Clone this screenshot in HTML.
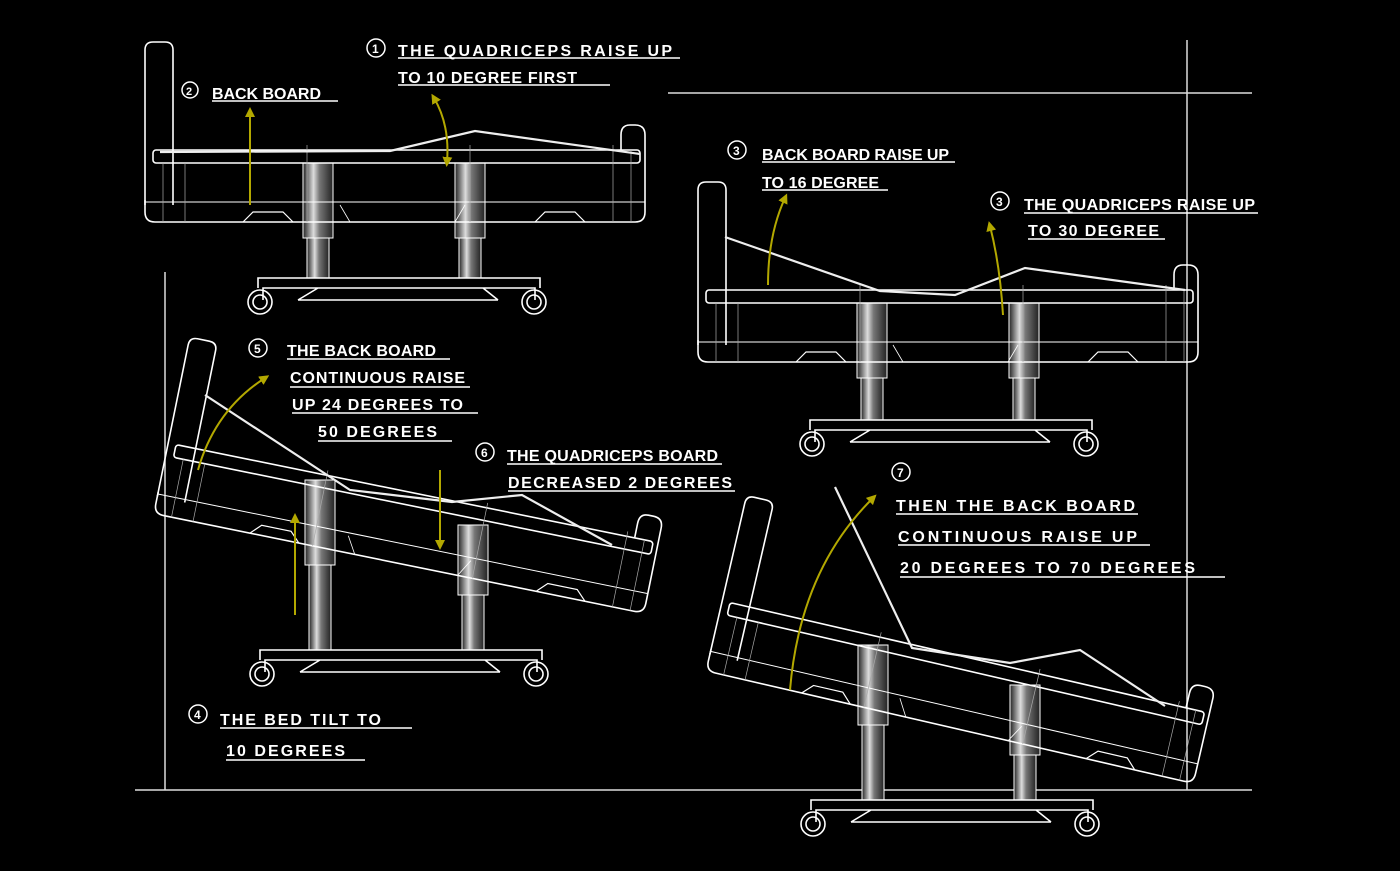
<!DOCTYPE html>
<html><head><meta charset="utf-8"><style>
html,body{margin:0;padding:0;background:#000;}
svg{display:block}
text{font-family:"Liberation Sans",sans-serif;font-weight:bold;fill:#fff;font-size:16px;letter-spacing:1px}
</style></head><body>
<svg width="1400" height="871" viewBox="0 0 1400 871" xmlns="http://www.w3.org/2000/svg">
<defs>
<linearGradient id="col" x1="0" x2="1">
<stop offset="0" stop-color="#222"/><stop offset="0.35" stop-color="#ddd"/><stop offset="0.55" stop-color="#777"/><stop offset="1" stop-color="#222"/>
</linearGradient>
<marker id="ah" viewBox="0 0 10 10" refX="5" refY="5" markerWidth="5" markerHeight="5" orient="auto-start-reverse"><path d="M0,0 L10,5 L0,10 z" fill="#b3a800"/></marker>
<g id="bed" fill="none" stroke="#fff" stroke-width="1.6">
<path d="M-10,55 L-10,-100 Q-10,-108 -2,-108 L10,-108 Q18,-108 18,-100 L18,55"/>
<path d="M-10,50 L-10,62 Q-10,72 0,72 L480,72 Q490,72 490,62 L490,-15 Q490,-25 480,-25 L475,-25 Q466,-25 466,-15 L466,0"/>
<rect x="-2" y="0" width="487" height="13" rx="3"/>
<path d="M-10,52 L490,52" stroke-width="1"/>
<path d="M88,72 L98,62 L128,62 L138,72 M380,72 L390,62 L420,62 L430,72" stroke-width="1.2"/>
<path d="M8,13 V72 M30,13 V72 M152,-5 V72 M315,-5 V72 M458,-5 V72 M476,0 V72" stroke-width="0.7" stroke="#aaa"/>
<path d="M185,55 L195,72 M310,55 L300,72" stroke-width="0.8"/>
</g>
<g id="base" fill="none" stroke="#fff" stroke-width="1.6">
<path d="M0,10 V0 H282 V10 M5,22 L5,10 H277 V22 M40,22 L60,10 M240,22 L225,10 M40,22 H240"/>
<circle cx="2" cy="24" r="12"/><circle cx="2" cy="24" r="7"/>
<circle cx="276" cy="24" r="12"/><circle cx="276" cy="24" r="7"/>
</g>
</defs>

<!-- frame lines -->
<g stroke="#ddd" stroke-width="1.5" fill="none">
<line x1="668" y1="93" x2="1252" y2="93"/>
<line x1="1187" y1="40" x2="1187" y2="790"/>
<line x1="135" y1="790" x2="1252" y2="790"/>
<line x1="165" y1="272" x2="165" y2="790"/>
</g>

<!-- columns -->
<g fill="url(#col)" stroke="#fff" stroke-width="1">
<rect x="303" y="163" width="30" height="75"/><rect x="307" y="238" width="22" height="40"/>
<rect x="455" y="163" width="30" height="75"/><rect x="459" y="238" width="22" height="40"/>
<rect x="857" y="303" width="30" height="75"/><rect x="861" y="378" width="22" height="42"/>
<rect x="1009" y="303" width="30" height="75"/><rect x="1013" y="378" width="22" height="42"/>
<rect x="305" y="480" width="30" height="85"/><rect x="309" y="565" width="22" height="85"/>
<rect x="458" y="525" width="30" height="70"/><rect x="462" y="595" width="22" height="55"/>
<rect x="858" y="645" width="30" height="80"/><rect x="862" y="725" width="22" height="75"/>
<rect x="1010" y="685" width="30" height="70"/><rect x="1014" y="755" width="22" height="45"/>
</g>

<!-- bases -->
<use href="#base" x="258" y="278"/>
<use href="#base" x="810" y="420"/>
<use href="#base" x="260" y="650"/>
<use href="#base" x="811" y="800"/>

<!-- beds -->
<g fill="#000"><use href="#bed" transform="translate(155,150)"/></g>
<use href="#bed" transform="translate(708,290)"/>
<use href="#bed" transform="translate(178,445) rotate(11.5)"/>
<use href="#bed" transform="translate(732,603) rotate(13)"/>

<!-- boards -->
<g stroke="#eee" stroke-width="2.2" fill="none">
<path d="M160,152 L390,151 L475,131 L640,154"/>
<path d="M725,237 L880,291 L955,295 L1025,268 L1185,290"/>
<path d="M205,395 L350,490 L452,502 L522,495 L612,545"/>
<path d="M835,487 L912,648 L1010,663 L1080,650 L1165,706"/>
</g>

<!-- yellow arrows -->
<g stroke="#b3a800" stroke-width="2" fill="none" marker-end="url(#ah)">
<path d="M250,205 L250,112"/>
<path d="M447,162 Q450,125 434,98" marker-start="url(#ah)"/>
<path d="M768,285 Q768,235 785,198"/>
<path d="M1003,315 Q1000,265 990,226"/>
<path d="M198,470 Q215,410 265,378"/>
<path d="M295,615 L295,518"/>
<path d="M440,470 L440,545"/>
<path d="M790,690 Q800,570 873,498"/>
</g>

<!-- labels -->
<g fill="none" stroke="#fff" stroke-width="1.5">
<circle cx="376" cy="48" r="9"/><circle cx="190" cy="90" r="8"/>
<circle cx="737" cy="150" r="9"/><circle cx="1000" cy="201" r="9"/>
<circle cx="258" cy="348" r="9"/><circle cx="485" cy="452" r="9"/>
<circle cx="901" cy="472" r="9"/><circle cx="198" cy="714" r="9"/>
<path d="M398,58 H680 M398,85 H610 M212,101 H338 M762,162 H955 M762,190 H888 M1024,213 H1258 M1028,239 H1165 M287,359 H450 M290,387 H470 M292,413 H478 M318,441 H452 M507,464 H722 M508,491 H735 M896,514 H1138 M898,545 H1150 M900,577 H1225 M220,728 H412 M226,760 H365"/>
</g>
<g font-size="11">
<text x="372" y="53" style="font-size:12px">1</text><text x="186" y="95" style="font-size:11px">2</text>
<text x="733" y="155" style="font-size:12px">3</text><text x="996" y="206" style="font-size:12px">3</text>
<text x="254" y="353" style="font-size:12px">5</text><text x="481" y="457" style="font-size:12px">6</text>
<text x="897" y="477" style="font-size:12px">7</text><text x="194" y="719" style="font-size:12px">4</text>
</g>
<text x="398" y="56" textLength="275">THE QUADRICEPS RAISE UP</text>
<text x="398" y="83" textLength="180">TO 10 DEGREE FIRST</text>
<text x="212" y="99" textLength="110">BACK BOARD</text>
<text x="762" y="160" textLength="188">BACK BOARD RAISE UP</text>
<text x="762" y="188" textLength="118">TO 16 DEGREE</text>
<text x="1024" y="210" textLength="232">THE QUADRICEPS RAISE UP</text>
<text x="1028" y="236" textLength="132">TO 30 DEGREE</text>
<text x="287" y="356" textLength="150">THE BACK BOARD</text>
<text x="290" y="383" textLength="176">CONTINUOUS RAISE</text>
<text x="292" y="410" textLength="172">UP 24 DEGREES TO</text>
<text x="318" y="437" textLength="120">50 DEGREES</text>
<text x="507" y="461" textLength="212">THE QUADRICEPS BOARD</text>
<text x="508" y="488" textLength="225">DECREASED 2 DEGREES</text>
<text x="896" y="511" textLength="240">THEN THE BACK BOARD</text>
<text x="898" y="542" textLength="240">CONTINUOUS RAISE UP</text>
<text x="900" y="573" textLength="296">20 DEGREES TO 70 DEGREES</text>
<text x="220" y="725" textLength="162">THE BED TILT TO</text>
<text x="226" y="756" textLength="120">10 DEGREES</text>
</svg>
</body></html>
